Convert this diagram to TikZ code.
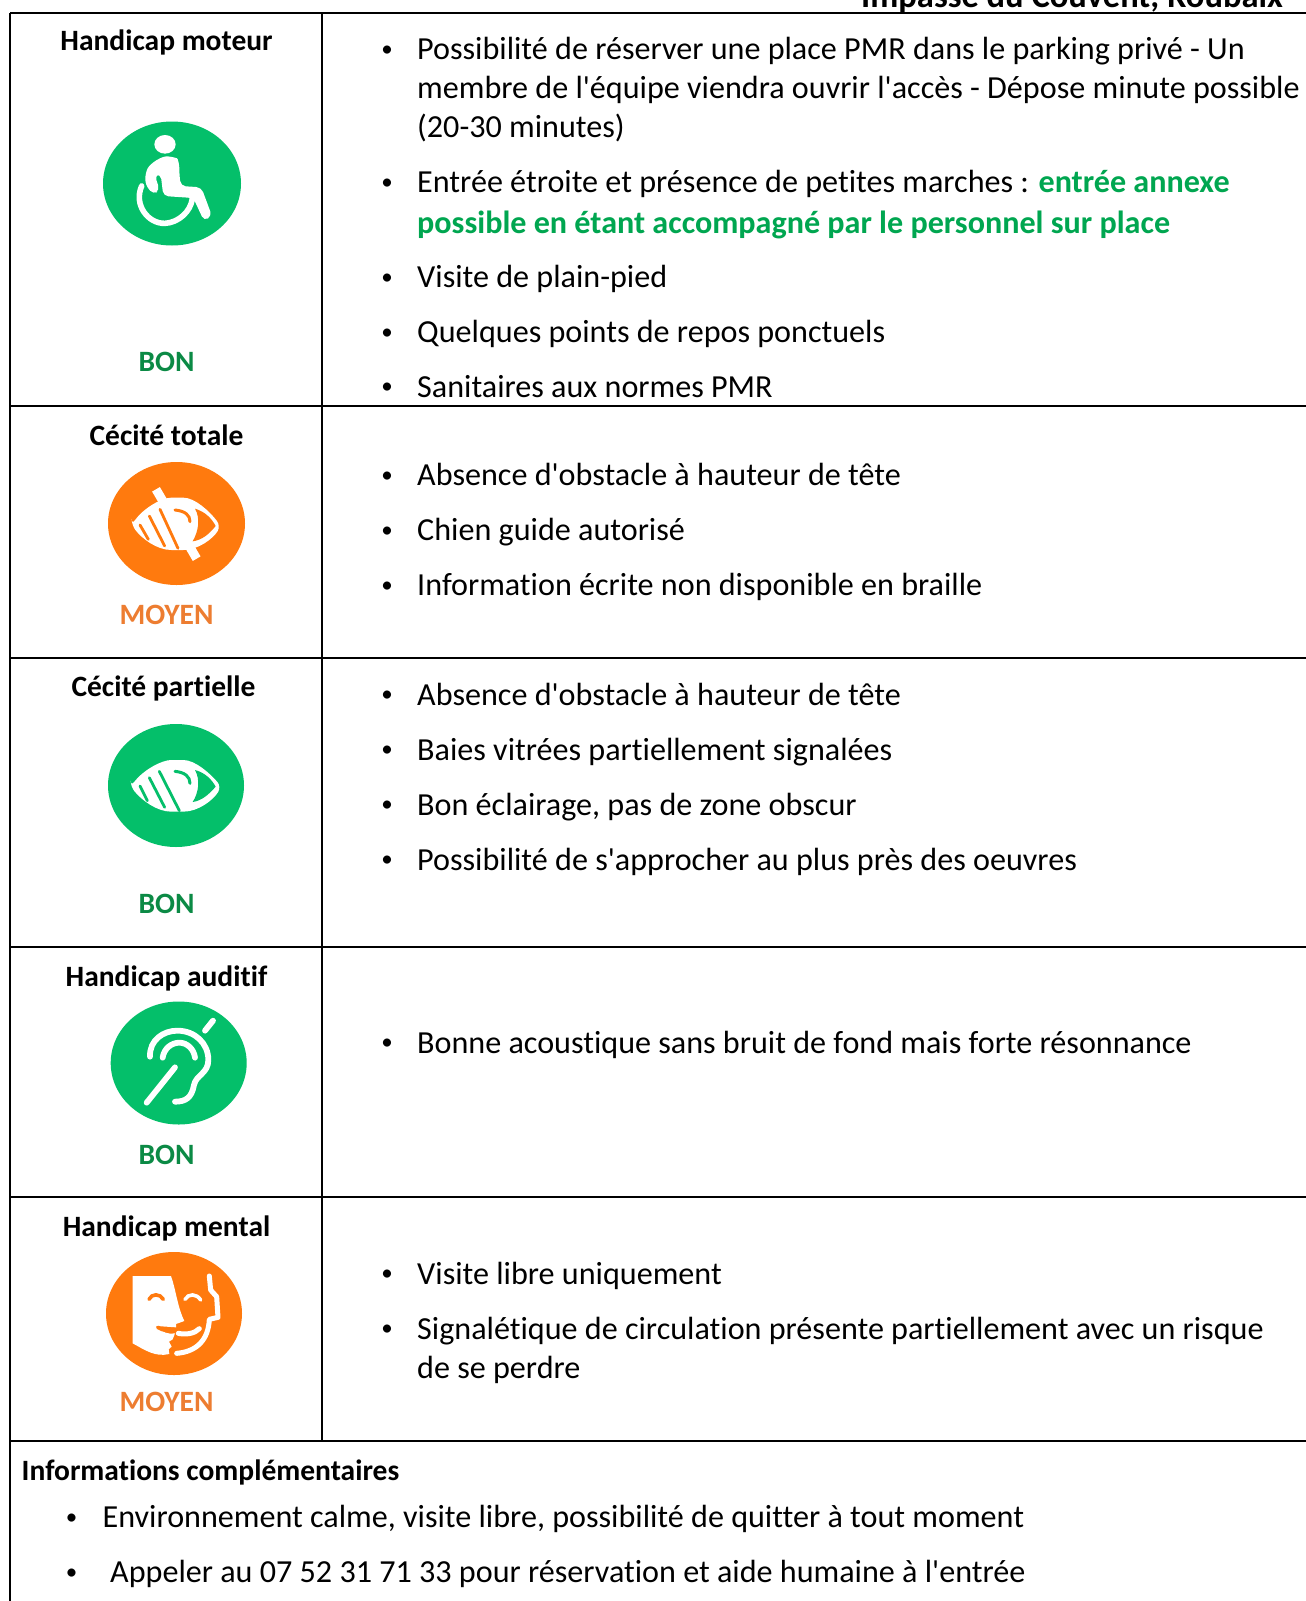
\documentclass[tikz,border=0pt]{standalone}
\usepackage{fontspec}
\setmainfont{Carlito}[Ligatures={TeXOff},RawFeature={-liga;-clig}]
\definecolor{icgreen}{HTML}{04BF6A}
\definecolor{icorange}{HTML}{FF7A0E}
\definecolor{bongreen}{HTML}{0B8A45}
\definecolor{moyorange}{HTML}{ED7D31}
\definecolor{hlgreen}{HTML}{00A650}
\newcommand{\mainsize}{\fontsize{32.12}{36}\selectfont}
\newcommand{\headsize}{\fontsize{29.5}{33}\selectfont}
\tikzset{
  x=1pt,y=-1pt,
  rule/.style={line width=2pt,black},
  txt/.style={anchor=base west,inner sep=0pt,font=\mainsize,text=black},
  bul/.style={anchor=base,inner sep=0pt,font=\fontsize{23}{26}\selectfont,text=black,yshift=3.5pt},
  head/.style={anchor=base,inner sep=0pt,font=\headsize\bfseries,text=black},
  bon/.style={head,text=bongreen},
  moy/.style={head,text=moyorange},
  icon/.style={x=0.33333pt,y=-0.33333pt},
  wstroke/.style={draw=white,line width=5.8pt,line cap=round,line join=round},
}
\begin{document}
\begin{tikzpicture}
\useasboundingbox (0,0) rectangle (1306,1601);
\clip (0,0) rectangle (1306,1601);
\fill[white] (0,0) rectangle (1306,1601);
% rules
\coordinate (tl) at (10,12.5); \coordinate (tr) at (1306,12.5);
\coordinate (r1l) at (10,405.5); \coordinate (r1r) at (1306,405.5);
\coordinate (r2l) at (10,657.5); \coordinate (r2r) at (1306,657.5);
\coordinate (r3l) at (10,946.5); \coordinate (r3r) at (1306,946.5);
\coordinate (r4l) at (10,1196.5); \coordinate (r4r) at (1306,1196.5);
\coordinate (r5l) at (10,1440.5); \coordinate (r5r) at (1306,1440.5);
\coordinate (bl) at (10,1601);
\coordinate (ct) at (322,12.5); \coordinate (cb) at (322,1440.5);
\draw[rule] (tl)--(tr);
\draw[rule] (r1l)--(r1r);
\draw[rule] (r2l)--(r2r);
\draw[rule] (r3l)--(r3r);
\draw[rule] (r4l)--(r4r);
\draw[rule] (r5l)--(r5r);
\draw[rule] (tl)--(bl);
\draw[rule] (ct)--(cb);
% clipped title
\node[head,anchor=base east,font=\fontsize{34.5}{40}\selectfont\bfseries] (title) at (1283,7) {Impasse du Couvent, Roubaix};
% left heads
\node[head] (h1) at (166.5,50.5) {Handicap moteur};
\node[bon] (b1) at (166.5,371.5) {BON};
\node[head] (h2) at (166.5,445) {Cécité totale};
\node[moy] (b2) at (166.5,624) {MOYEN};
\node[head] (h3) at (163.5,696.5) {Cécité partielle};
\node[bon] (b3) at (166.5,913) {BON};
\node[head] (h4) at (166.5,986) {Handicap auditif};
\node[bon] (b4) at (166.5,1164) {BON};
\node[head] (h5) at (166.5,1236) {Handicap mental};
\node[moy] (b5) at (166.5,1411) {MOYEN};
% right column
\node[bul] (p1) at (387,59.5) {•};
\node[txt] (t1a) at (417,59.5) {Possibilité de réserver une place PMR dans le parking privé - Un};
\node[txt] (t1b) at (417,98.5) {membre de l'équipe viendra ouvrir l'accès - Dépose minute possible};
\node[txt] (t1c) at (417,137) {(20-30 minutes)};
\node[bul] (p2) at (387,192.5) {•};
\node[txt] (t2a) at (417,192.5) {Entrée étroite et présence de petites marches : \textcolor{hlgreen}{\bfseries entrée annexe}};
\node[txt,text=hlgreen,font=\mainsize\bfseries] (t2b) at (417,233) {possible en étant accompagné par le personnel sur place};
\node[bul] (p3) at (387,287.5) {•};
\node[txt] (t3) at (417,287.5) {Visite de plain-pied};
\node[bul] (p4) at (387,342.5) {•};
\node[txt] (t4) at (417,342.5) {Quelques points de repos ponctuels};
\node[bul] (p5) at (387,397) {•};
\node[txt] (t5) at (417,397) {Sanitaires aux normes PMR};
\node[bul] (p6) at (387,485.5) {•};
\node[txt] (t6) at (417,485.5) {Absence d'obstacle à hauteur de tête};
\node[bul] (p7) at (387,540.5) {•};
\node[txt] (t7) at (417,540.5) {Chien guide autorisé};
\node[bul] (p8) at (387,595.5) {•};
\node[txt] (t8) at (417,595.5) {Information écrite non disponible en braille};
\node[bul] (p9) at (387,705) {•};
\node[txt] (t9) at (417,705) {Absence d'obstacle à hauteur de tête};
\node[bul] (p10) at (387,760) {•};
\node[txt] (t10) at (417,760) {Baies vitrées partiellement signalées};
\node[bul] (p11) at (387,815) {•};
\node[txt] (t11) at (417,815) {Bon éclairage, pas de zone obscur};
\node[bul] (p12) at (387,870) {•};
\node[txt] (t12) at (417,870) {Possibilité de s'approcher au plus près des oeuvres};
\node[bul] (p13) at (387,1053) {•};
\node[txt] (t13) at (417,1053) {Bonne acoustique sans bruit de fond mais forte résonnance};
\node[bul] (p14) at (387,1284) {•};
\node[txt] (t14) at (417,1284) {Visite libre uniquement};
\node[bul] (p15) at (387,1339) {•};
\node[txt] (t15a) at (417,1339) {Signalétique de circulation présente partiellement avec un risque};
\node[txt] (t15b) at (417,1378) {de se perdre};
% info
\node[txt,font=\headsize\bfseries] (info) at (21.5,1480) {Informations complémentaires};
\node[bul] (p16) at (71.5,1527.5) {•};
\node[txt] (t16) at (102.5,1527.5) {Environnement calme, visite libre, possibilité de quitter à tout moment};
\node[bul] (p17) at (71.5,1582.5) {•};
\node[txt] (t17) at (110,1582.5) {Appeler au 07 52 31 71 33 pour réservation et aide humaine à l'entrée};
% icons
\fill[icgreen] (172,183.5) ellipse [x radius=69,y radius=62];
\begin{scope}[shift={(90,110)},icon]
 \fill[white] (225,103) ellipse [x radius=32,y radius=28];
 \draw[wstroke,line width=5.6pt] (155,228) .. controls (130,285) and (175,342) .. (225,340) .. controls (265,338) and (302,305) .. (307,266);
 \fill[white,rounded corners=5pt] (166,190) .. controls (180,160) and (215,138) .. (247,140) .. controls (264,146) and (268,165) .. (268,190) -- (272,228) -- (334,232) -- (366,318) -- (342,333) -- (310,264) -- (220,258) -- (212,192) -- (194,195) -- (209,240) -- (190,254) -- (166,224) -- cycle;
\end{scope}
\fill[icorange] (176.5,523.5) ellipse [x radius=68.5,y radius=61.5];
\begin{scope}[shift={(90,450)},icon]
 \fill[white,rounded corners=6pt] (125,225) .. controls (160,175) and (215,143) .. (262,143) .. controls (315,143) and (360,185) .. (392,228) .. controls (370,265) and (325,300) .. (262,300) .. controls (200,300) and (155,265) .. (125,225) -- cycle;
 \fill[icorange] (315,176) .. controls (345,185) and (365,205) .. (377,228) .. controls (355,255) and (335,270) .. (308,274) .. controls (325,245) and (332,205) .. (315,176) -- cycle;
 \draw[icorange,line width=2.8pt,line cap=round] (150,225) -- (175,268);
 \draw[icorange,line width=2.8pt,line cap=round] (178,198) -- (224,288);
 \draw[icorange,line width=2.8pt,line cap=round] (210,178) -- (264,295);
 \draw[white,line width=9pt] (198,118) -- (320,326);
 \draw[icorange,line width=3pt,line cap=round] (255,180) .. controls (285,183) and (300,195) .. (300,215);
\end{scope}
\fill[icgreen] (176,785.5) ellipse [x radius=68,y radius=61.5];
\begin{scope}[shift={(90,710)},icon]
 \fill[white,rounded corners=6pt] (122,230) .. controls (160,180) and (215,150) .. (262,150) .. controls (315,150) and (360,190) .. (394,230) .. controls (370,270) and (325,305) .. (262,305) .. controls (200,305) and (155,270) .. (122,230) -- cycle;
 \fill[icgreen] (315,180) .. controls (345,188) and (365,208) .. (377,230) .. controls (355,255) and (335,272) .. (308,276) .. controls (325,250) and (332,210) .. (315,180) -- cycle;
 \draw[icgreen,line width=3pt,line cap=round] (255,184) .. controls (285,187) and (300,200) .. (300,220);
 \draw[icgreen,line width=2.8pt,line cap=round] (150,228) -- (172,272);
 \draw[icgreen,line width=2.8pt,line cap=round] (178,203) -- (224,292);
 \draw[icgreen,line width=2.8pt,line cap=round] (208,184) -- (268,302);
\end{scope}
\fill[icgreen] (178.7,1063) ellipse [x radius=68,y radius=61.5];
\begin{scope}[shift={(90,990)},icon]
 \draw[wstroke] (180,200) .. controls (178,150) and (220,122) .. (262,122) .. controls (315,122) and (355,160) .. (355,210) .. controls (355,250) and (318,255) .. (312,285) .. controls (305,325) and (285,335) .. (255,335);
 \draw[wstroke] (218,203) .. controls (222,175) and (245,158) .. (268,158) .. controls (292,158) and (312,178) .. (315,203);
 \draw[wstroke] (170,338) -- (255,232);
 \draw[wstroke] (345,122) -- (369,92);
\end{scope}
\fill[icorange] (174,1313.5) ellipse [x radius=68,y radius=61.5];
\begin{scope}[shift={(90,1240)},icon]
 \fill[white] (128,108) -- (243,108) .. controls (258,150) and (262,200) .. (283,243) -- (258,252) -- (258,262) -- (200,258) .. controls (215,275) and (235,285) .. (255,280) -- (248,298) -- (237,305) -- (245,320) -- (236,328) -- (238,342) .. controls (195,352) and (165,330) .. (128,310) -- cycle;
 \draw[icorange,line width=3.6pt,line cap=round] (177,178) .. controls (185,160) and (210,160) .. (220,178);
 \draw[icorange,line width=3.6pt,line cap=round] (203,262) .. controls (220,272) and (240,275) .. (256,272);
 \draw[white,line width=3.6pt,line cap=round] (285,178) .. controls (295,160) and (320,160) .. (332,180);
 \draw[white,line width=5pt,line cap=round] (265,280) .. controls (290,285) and (315,280) .. (328,266);
 \draw[white,line width=5pt,line cap=round,line join=round] (358,108) -- (362,150) -- (380,170) -- (384,232) -- (358,238) .. controls (355,300) and (320,335) .. (260,340);
\end{scope}
\end{tikzpicture}
\end{document}
